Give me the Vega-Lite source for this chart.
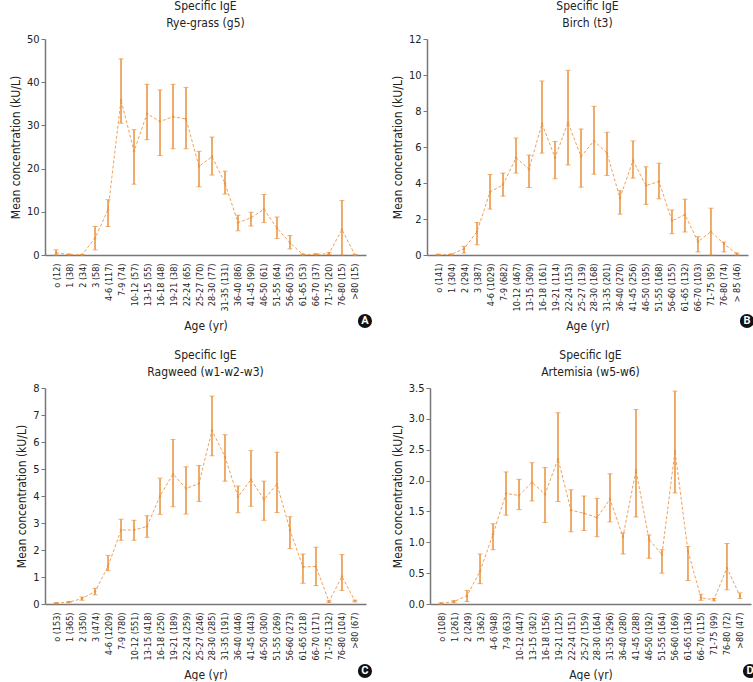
{
  "$schema": "https://vega.github.io/schema/vega-lite/v6.json",
  "padding": {"left": 9, "top": 0, "right": 0, "bottom": 0},
  "background": "white",
  "spacing": 17,
  "config": {
    "view": {"stroke": null},
    "font": "DejaVu Sans Condensed",
    "title": {"fontSize": 12, "fontWeight": "normal", "color": "#222", "lineHeight": 17, "offset": 3, "font": "DejaVu Sans Condensed"},
    "axis": {"labelFont": "DejaVu Sans Condensed", "titleFont": "DejaVu Sans Condensed", "labelColor": "#222", "titleColor": "#222", "titleFontWeight": "normal", "titleFontSize": 12, "domainColor": "#777", "tickColor": "#777", "grid": false, "labelOverlap": false},
    "axisY": {"labelOverlap": false}
  },
  "datasets": {
    "A": [
      {"age": "o (12)", "mean": 0.5, "lo": 0, "hi": 1.2},
      {"age": "1 (38)", "mean": 0.1, "lo": 0.05, "hi": 0.2},
      {"age": "2 (34)", "mean": 0.05, "lo": 0, "hi": 0.1},
      {"age": "3 (58)", "mean": 3.9, "lo": 1.2, "hi": 6.6},
      {"age": "4-6 (117)", "mean": 10.5, "lo": 6.6, "hi": 12.8},
      {"age": "7-9 (74)", "mean": 35.9, "lo": 30.5, "hi": 45.4},
      {"age": "10-12 (57)", "mean": 24.0, "lo": 16.4, "hi": 29.0},
      {"age": "13-15 (55)", "mean": 32.7, "lo": 26.7, "hi": 39.5},
      {"age": "16-18 (48)", "mean": 30.9, "lo": 23.0, "hi": 38.2},
      {"age": "19-21 (38)", "mean": 32.0, "lo": 24.6, "hi": 39.5},
      {"age": "22-24 (65)", "mean": 31.5, "lo": 24.6, "hi": 38.8},
      {"age": "25-27 (70)", "mean": 20.5, "lo": 15.8, "hi": 24.0},
      {"age": "28-30 (77)", "mean": 22.8, "lo": 18.5, "hi": 27.3},
      {"age": "31-35 (131)", "mean": 16.6, "lo": 14.1, "hi": 19.4},
      {"age": "36-40 (86)", "mean": 7.5, "lo": 5.6, "hi": 9.2},
      {"age": "41-45 (90)", "mean": 8.6, "lo": 6.7, "hi": 9.9},
      {"age": "46-50 (61)", "mean": 10.6, "lo": 7.5, "hi": 14.0},
      {"age": "51-55 (64)", "mean": 6.2, "lo": 3.8, "hi": 8.8},
      {"age": "56-60 (53)", "mean": 2.8, "lo": 1.4, "hi": 4.5},
      {"age": "61-65 (53)", "mean": 0.1, "lo": 0, "hi": 0.2},
      {"age": "66-70 (37)", "mean": 0.15, "lo": 0.05, "hi": 0.3},
      {"age": "71-75 (20)", "mean": 0.3, "lo": 0.1, "hi": 0.6},
      {"age": "76-80 (15)", "mean": 5.9, "lo": 0, "hi": 12.6},
      {"age": ">80 (15)", "mean": 0.02, "lo": 0, "hi": 0.05}
    ],
    "B": [
      {"age": "o (141)", "mean": 0.02, "lo": 0, "hi": 0.04},
      {"age": "1 (304)", "mean": 0.03, "lo": 0.01, "hi": 0.05},
      {"age": "2 (294)", "mean": 0.35, "lo": 0.11, "hi": 0.48},
      {"age": "3 (387)", "mean": 1.3, "lo": 0.57, "hi": 1.8},
      {"age": "4-6 (1029)", "mean": 3.5, "lo": 2.55, "hi": 4.47},
      {"age": "7-9 (682)", "mean": 3.9, "lo": 3.27, "hi": 4.55},
      {"age": "10-12 (467)", "mean": 5.4, "lo": 4.55, "hi": 6.5},
      {"age": "13-15 (309)", "mean": 4.77, "lo": 3.75, "hi": 5.55},
      {"age": "16-18 (161)", "mean": 7.3, "lo": 5.66, "hi": 9.67},
      {"age": "19-21 (114)", "mean": 5.4, "lo": 4.23, "hi": 6.3},
      {"age": "22-24 (153)", "mean": 7.36, "lo": 5.0, "hi": 10.26},
      {"age": "25-27 (139)", "mean": 5.47, "lo": 3.77, "hi": 7.0},
      {"age": "28-30 (168)", "mean": 6.34, "lo": 4.49, "hi": 8.26},
      {"age": "31-35 (201)", "mean": 5.66, "lo": 4.42, "hi": 6.82},
      {"age": "36-40 (270)", "mean": 3.16, "lo": 2.27, "hi": 3.57},
      {"age": "41-45 (256)", "mean": 5.25, "lo": 4.27, "hi": 6.34},
      {"age": "46-50 (195)", "mean": 3.86, "lo": 2.81, "hi": 4.9},
      {"age": "51-55 (168)", "mean": 4.08, "lo": 3.12, "hi": 5.1},
      {"age": "56-60 (155)", "mean": 1.9, "lo": 1.18, "hi": 2.5},
      {"age": "61-65 (132)", "mean": 2.24, "lo": 1.28, "hi": 3.1},
      {"age": "66-70 (103)", "mean": 0.74, "lo": 0.17, "hi": 1.02},
      {"age": "71-75 (95)", "mean": 1.3, "lo": 0, "hi": 2.6},
      {"age": "76-80 (74)", "mean": 0.61, "lo": 0.17, "hi": 0.72},
      {"age": "> 85 (46)", "mean": 0.06, "lo": 0, "hi": 0.11}
    ],
    "C": [
      {"age": "o (153)", "mean": 0.03, "lo": 0.01, "hi": 0.05},
      {"age": "1 (365)", "mean": 0.07, "lo": 0.05, "hi": 0.09},
      {"age": "2 (350)", "mean": 0.2, "lo": 0.14, "hi": 0.26},
      {"age": "3 (474)", "mean": 0.46, "lo": 0.34, "hi": 0.58},
      {"age": "4-6 (1209)", "mean": 1.39, "lo": 1.23, "hi": 1.8},
      {"age": "7-9 (780)", "mean": 2.74, "lo": 2.36, "hi": 3.14},
      {"age": "10-12 (551)", "mean": 2.74, "lo": 2.36, "hi": 3.1},
      {"age": "13-15 (418)", "mean": 2.87, "lo": 2.47, "hi": 3.27},
      {"age": "16-18 (250)", "mean": 4.0, "lo": 3.32, "hi": 4.66},
      {"age": "19-21 (189)", "mean": 4.81, "lo": 3.6, "hi": 6.09},
      {"age": "22-24 (259)", "mean": 4.28, "lo": 3.33, "hi": 5.08},
      {"age": "25-27 (246)", "mean": 4.46, "lo": 3.8, "hi": 5.13},
      {"age": "28-30 (285)", "mean": 6.43, "lo": 5.49, "hi": 7.7},
      {"age": "31-35 (191)", "mean": 5.45, "lo": 4.55, "hi": 6.27},
      {"age": "36-40 (446)", "mean": 3.97, "lo": 3.38, "hi": 4.37},
      {"age": "41-45 (443)", "mean": 4.61, "lo": 3.62, "hi": 5.68},
      {"age": "46-50 (300)", "mean": 3.87, "lo": 3.1, "hi": 4.55},
      {"age": "51-55 (269)", "mean": 4.44, "lo": 3.39, "hi": 5.62},
      {"age": "56-60 (273)", "mean": 2.74, "lo": 2.05, "hi": 3.23},
      {"age": "61-65 (218)", "mean": 1.37, "lo": 0.77, "hi": 1.85},
      {"age": "66-70 (171)", "mean": 1.39, "lo": 0.68, "hi": 2.1},
      {"age": "71-75 (132)", "mean": 0.09, "lo": 0.06, "hi": 0.12},
      {"age": "76-80 (104)", "mean": 1.02, "lo": 0.5, "hi": 1.83},
      {"age": ">80 (67)", "mean": 0.11, "lo": 0.08, "hi": 0.14}
    ],
    "D": [
      {"age": "o (108)", "mean": 0.01, "lo": 0, "hi": 0.02},
      {"age": "1 (261)", "mean": 0.04, "lo": 0.02, "hi": 0.055},
      {"age": "2 (249)", "mean": 0.135, "lo": 0.04, "hi": 0.22},
      {"age": "3 (362)", "mean": 0.53, "lo": 0.33, "hi": 0.81},
      {"age": "4-6 (948)", "mean": 1.13, "lo": 0.88, "hi": 1.3},
      {"age": "7-9 (633)", "mean": 1.79, "lo": 1.44, "hi": 2.14},
      {"age": "10-12 (447)", "mean": 1.76, "lo": 1.53, "hi": 2.02},
      {"age": "13-15 (302)", "mean": 1.97, "lo": 1.67, "hi": 2.29},
      {"age": "16-18 (156)", "mean": 1.78, "lo": 1.32, "hi": 2.21},
      {"age": "19-21 (125)", "mean": 2.35, "lo": 1.66, "hi": 3.1},
      {"age": "22-24 (151)", "mean": 1.52, "lo": 1.17, "hi": 1.85},
      {"age": "25-27 (159)", "mean": 1.47, "lo": 1.19, "hi": 1.75},
      {"age": "28-30 (164)", "mean": 1.4, "lo": 1.09, "hi": 1.71},
      {"age": "31-35 (296)", "mean": 1.7, "lo": 1.33, "hi": 2.11},
      {"age": "36-40 (280)", "mean": 1.09, "lo": 0.81, "hi": 1.15},
      {"age": "41-45 (288)", "mean": 2.17, "lo": 1.41, "hi": 3.15},
      {"age": "46-50 (192)", "mean": 1.05, "lo": 0.74, "hi": 1.12},
      {"age": "51-55 (164)", "mean": 0.8, "lo": 0.5, "hi": 0.88},
      {"age": "56-60 (169)", "mean": 2.48, "lo": 1.8, "hi": 3.45},
      {"age": "61-65 (136)", "mean": 0.86, "lo": 0.38, "hi": 0.93},
      {"age": "66-70 (115)", "mean": 0.1, "lo": 0.06, "hi": 0.16},
      {"age": "71-75 (99)", "mean": 0.07, "lo": 0.05, "hi": 0.09},
      {"age": "76-80 (72)", "mean": 0.585, "lo": 0.23, "hi": 0.98},
      {"age": ">80 (47)", "mean": 0.13, "lo": 0.09, "hi": 0.18}
    ],
    "LA": [{"age": ">80 (15)", "letter": "A", "v": 0}],
    "LB": [{"age": "> 85 (46)", "letter": "B", "v": 0}],
    "LC": [{"age": ">80 (67)", "letter": "C", "v": 0}],
    "LD": [{"age": ">80 (47)", "letter": "D", "v": 0}]
  },
  "vconcat": [
    {"spacing": 18, "hconcat": [
      {
        "width": 321, "height": 216,
        "title": {"text": ["Specific IgE", "Rye-grass (g5)"]},
        "data": {"name": "A"},
        "encoding": {
          "x": {"field": "age", "type": "ordinal", "sort": null, "scale": {"type": "point", "padding": 0.85}, "axis": {"title": "Age (yr)", "labelAngle": -90, "labelFontSize": 9, "ticks": false, "labelPadding": 8, "domainWidth": 1.5, "titlePadding": 10}},
          "y": {"field": "mean", "type": "quantitative", "scale": {"domain": [0, 50], "nice": false}, "axis": {"title": "Mean concentration (kU/L)", "values": [0, 10, 20, 30, 40, 50], "labelOverlap": false, "tickSize": 4, "labelFontSize": 11, "domainWidth": 1.5}}
        },
        "layer": [
          {"mark": {"type": "line", "strokeDash": [3, 2], "color": "#F2A055", "strokeWidth": 1}},
          {"mark": {"type": "errorbar", "ticks": {"size": 5}, "color": "#E8903A", "rule": {"strokeWidth": 1.5}}, "encoding": {"y": {"field": "lo", "type": "quantitative", "scale": {"domain": [0, 50], "nice": false}, "axis": {"title": "Mean concentration (kU/L)", "values": [0, 10, 20, 30, 40, 50], "labelOverlap": false, "tickSize": 4, "labelFontSize": 11, "domainWidth": 1.5}}, "y2": {"field": "hi"}}},
          {"mark": {"type": "point", "filled": true, "size": 6, "color": "#E8903A"}},
          {"data": {"name": "LA"}, "mark": {"type": "point", "filled": true, "size": 200, "color": "#111", "opacity": 1, "clip": false, "xOffset": 10, "yOffset": 66}, "encoding": {"y": {"field": "v", "type": "quantitative", "scale": {"domain": [0, 50], "nice": false}, "axis": {"title": "Mean concentration (kU/L)", "values": [0, 10, 20, 30, 40, 50], "labelOverlap": false, "tickSize": 4, "labelFontSize": 11, "domainWidth": 1.5}}}},
          {"data": {"name": "LA"}, "mark": {"type": "text", "color": "white", "fontWeight": "bold", "fontSize": 11, "font": "Roboto", "clip": false, "xOffset": 10, "yOffset": 66}, "encoding": {"y": {"field": "v", "type": "quantitative", "scale": {"domain": [0, 50], "nice": false}, "axis": {"title": "Mean concentration (kU/L)", "values": [0, 10, 20, 30, 40, 50], "labelOverlap": false, "tickSize": 4, "labelFontSize": 11, "domainWidth": 1.5}}, "text": {"field": "letter"}}}
        ]
      },
      {
        "width": 321, "height": 216,
        "title": {"text": ["Specific IgE", "Birch (t3)"]},
        "data": {"name": "B"},
        "encoding": {
          "x": {"field": "age", "type": "ordinal", "sort": null, "scale": {"type": "point", "padding": 0.85}, "axis": {"title": "Age (yr)", "labelAngle": -90, "labelFontSize": 9, "ticks": false, "labelPadding": 8, "domainWidth": 1.5, "titlePadding": 10}},
          "y": {"field": "mean", "type": "quantitative", "scale": {"domain": [0, 12], "nice": false}, "axis": {"title": "Mean concentration (kU/L)", "values": [0, 2, 4, 6, 8, 10, 12], "labelOverlap": false, "tickSize": 4, "labelFontSize": 11, "domainWidth": 1.5}}
        },
        "layer": [
          {"mark": {"type": "line", "strokeDash": [3, 2], "color": "#F2A055", "strokeWidth": 1}},
          {"mark": {"type": "errorbar", "ticks": {"size": 5}, "color": "#E8903A", "rule": {"strokeWidth": 1.5}}, "encoding": {"y": {"field": "lo", "type": "quantitative", "scale": {"domain": [0, 12], "nice": false}, "axis": {"title": "Mean concentration (kU/L)", "values": [0, 2, 4, 6, 8, 10, 12], "labelOverlap": false, "tickSize": 4, "labelFontSize": 11, "domainWidth": 1.5}}, "y2": {"field": "hi"}}},
          {"mark": {"type": "point", "filled": true, "size": 6, "color": "#E8903A"}},
          {"data": {"name": "LB"}, "mark": {"type": "point", "filled": true, "size": 200, "color": "#111", "opacity": 1, "clip": false, "xOffset": 10, "yOffset": 66}, "encoding": {"y": {"field": "v", "type": "quantitative", "scale": {"domain": [0, 12], "nice": false}, "axis": {"title": "Mean concentration (kU/L)", "values": [0, 2, 4, 6, 8, 10, 12], "labelOverlap": false, "tickSize": 4, "labelFontSize": 11, "domainWidth": 1.5}}}},
          {"data": {"name": "LB"}, "mark": {"type": "text", "color": "white", "fontWeight": "bold", "fontSize": 11, "font": "Roboto", "clip": false, "xOffset": 10, "yOffset": 66}, "encoding": {"y": {"field": "v", "type": "quantitative", "scale": {"domain": [0, 12], "nice": false}, "axis": {"title": "Mean concentration (kU/L)", "values": [0, 2, 4, 6, 8, 10, 12], "labelOverlap": false, "tickSize": 4, "labelFontSize": 11, "domainWidth": 1.5}}, "text": {"field": "letter"}}}
        ]
      }
    ]},
    {"spacing": 18, "hconcat": [
      {
        "width": 321, "height": 216,
        "title": {"text": ["Specific IgE", "Ragweed (w1-w2-w3)"]},
        "data": {"name": "C"},
        "encoding": {
          "x": {"field": "age", "type": "ordinal", "sort": null, "scale": {"type": "point", "padding": 0.85}, "axis": {"title": "Age (yr)", "labelAngle": -90, "labelFontSize": 9, "ticks": false, "labelPadding": 8, "domainWidth": 1.5, "titlePadding": 10}},
          "y": {"field": "mean", "type": "quantitative", "scale": {"domain": [0, 8], "nice": false}, "axis": {"title": "Mean concentration (kU/L)", "values": [0, 1, 2, 3, 4, 5, 6, 7, 8], "labelOverlap": false, "tickSize": 4, "labelFontSize": 11, "domainWidth": 1.5}}
        },
        "layer": [
          {"mark": {"type": "line", "strokeDash": [3, 2], "color": "#F2A055", "strokeWidth": 1}},
          {"mark": {"type": "errorbar", "ticks": {"size": 5}, "color": "#E8903A", "rule": {"strokeWidth": 1.5}}, "encoding": {"y": {"field": "lo", "type": "quantitative", "scale": {"domain": [0, 8], "nice": false}, "axis": {"title": "Mean concentration (kU/L)", "values": [0, 1, 2, 3, 4, 5, 6, 7, 8], "labelOverlap": false, "tickSize": 4, "labelFontSize": 11, "domainWidth": 1.5}}, "y2": {"field": "hi"}}},
          {"mark": {"type": "point", "filled": true, "size": 6, "color": "#E8903A"}},
          {"data": {"name": "LC"}, "mark": {"type": "point", "filled": true, "size": 200, "color": "#111", "opacity": 1, "clip": false, "xOffset": 10, "yOffset": 67}, "encoding": {"y": {"field": "v", "type": "quantitative", "scale": {"domain": [0, 8], "nice": false}, "axis": {"title": "Mean concentration (kU/L)", "values": [0, 1, 2, 3, 4, 5, 6, 7, 8], "labelOverlap": false, "tickSize": 4, "labelFontSize": 11, "domainWidth": 1.5}}}},
          {"data": {"name": "LC"}, "mark": {"type": "text", "color": "white", "fontWeight": "bold", "fontSize": 11, "font": "Roboto", "clip": false, "xOffset": 10, "yOffset": 67}, "encoding": {"y": {"field": "v", "type": "quantitative", "scale": {"domain": [0, 8], "nice": false}, "axis": {"title": "Mean concentration (kU/L)", "values": [0, 1, 2, 3, 4, 5, 6, 7, 8], "labelOverlap": false, "tickSize": 4, "labelFontSize": 11, "domainWidth": 1.5}}, "text": {"field": "letter"}}}
        ]
      },
      {
        "width": 321, "height": 216,
        "title": {"text": ["Specific IgE", "Artemisia (w5-w6)"]},
        "data": {"name": "D"},
        "encoding": {
          "x": {"field": "age", "type": "ordinal", "sort": null, "scale": {"type": "point", "padding": 0.85}, "axis": {"title": "Age (yr)", "labelAngle": -90, "labelFontSize": 9, "ticks": false, "labelPadding": 8, "domainWidth": 1.5, "titlePadding": 10}},
          "y": {"field": "mean", "type": "quantitative", "scale": {"domain": [0, 3.5], "nice": false}, "axis": {"title": "Mean concentration (kU/L)", "values": [0, 0.5, 1, 1.5, 2, 2.5, 3, 3.5], "format": ".1f", "labelOverlap": false, "tickSize": 4, "labelFontSize": 11, "domainWidth": 1.5}}
        },
        "layer": [
          {"mark": {"type": "line", "strokeDash": [3, 2], "color": "#F2A055", "strokeWidth": 1}},
          {"mark": {"type": "errorbar", "ticks": {"size": 5}, "color": "#E8903A", "rule": {"strokeWidth": 1.5}}, "encoding": {"y": {"field": "lo", "type": "quantitative", "scale": {"domain": [0, 3.5], "nice": false}, "axis": {"title": "Mean concentration (kU/L)", "values": [0, 0.5, 1, 1.5, 2, 2.5, 3, 3.5], "format": ".1f", "labelOverlap": false, "tickSize": 4, "labelFontSize": 11, "domainWidth": 1.5}}, "y2": {"field": "hi"}}},
          {"mark": {"type": "point", "filled": true, "size": 6, "color": "#E8903A"}},
          {"data": {"name": "LD"}, "mark": {"type": "point", "filled": true, "size": 200, "color": "#111", "opacity": 1, "clip": false, "xOffset": 10, "yOffset": 67}, "encoding": {"y": {"field": "v", "type": "quantitative", "scale": {"domain": [0, 3.5], "nice": false}, "axis": {"title": "Mean concentration (kU/L)", "values": [0, 0.5, 1, 1.5, 2, 2.5, 3, 3.5], "format": ".1f", "labelOverlap": false, "tickSize": 4, "labelFontSize": 11, "domainWidth": 1.5}}}},
          {"data": {"name": "LD"}, "mark": {"type": "text", "color": "white", "fontWeight": "bold", "fontSize": 11, "font": "Roboto", "clip": false, "xOffset": 10, "yOffset": 67}, "encoding": {"y": {"field": "v", "type": "quantitative", "scale": {"domain": [0, 3.5], "nice": false}, "axis": {"title": "Mean concentration (kU/L)", "values": [0, 0.5, 1, 1.5, 2, 2.5, 3, 3.5], "format": ".1f", "labelOverlap": false, "tickSize": 4, "labelFontSize": 11, "domainWidth": 1.5}}, "text": {"field": "letter"}}}
        ]
      }
    ]}
  ]
}
